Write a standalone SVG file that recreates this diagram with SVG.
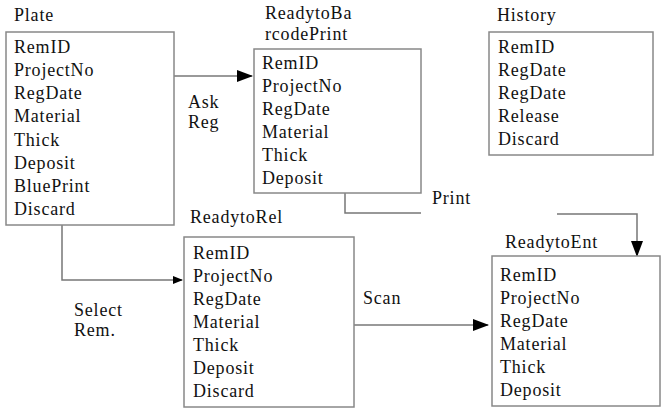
<svg xmlns="http://www.w3.org/2000/svg" width="667" height="414" viewBox="0 0 667 414">
<style>
text{font-family:"Liberation Serif","Times New Roman",serif;font-size:18px;letter-spacing:0.8px;fill:#111}
.box{fill:#fff;stroke:#888;stroke-width:1.5}
.c{fill:none;stroke:#777;stroke-width:1.5}
</style>
<defs><marker id="a" markerWidth="10" markerHeight="8" refX="9" refY="4" orient="auto" markerUnits="userSpaceOnUse"><path d="M0,0L10,4L0,8z" fill="#000"/></marker>
<marker id="b" markerWidth="16" markerHeight="12" refX="15" refY="6" orient="auto" markerUnits="userSpaceOnUse"><path d="M0,0L16,6L0,12z" fill="#000"/></marker></defs>
<rect width="667" height="414" fill="#fff"/>
<g id="connectors">
<path class="c" d="M174,76H252" marker-end="url(#b)"/>
<path class="c" d="M62,225V280H182" marker-end="url(#a)"/>
<path class="c" d="M354,325H488" marker-end="url(#b)"/>
<path class="c" d="M345,193V213H421"/>
<path class="c" d="M557,214H637V256" marker-end="url(#b)"/>
<text x="188" y="108">Ask</text><text x="188" y="128">Reg</text>
<text x="74" y="316">Select</text><text x="74" y="336">Rem.</text>
<text x="363" y="304">Scan</text>
<text x="432" y="204">Print</text>
</g>
<g id="plate"><text x="14" y="21">Plate</text><rect class="box" x="6" y="32" width="168" height="193"/>
<text x="14" y="53">RemID</text><text x="14" y="76">ProjectNo</text><text x="14" y="99">RegDate</text><text x="14" y="122">Material</text><text x="14" y="146">Thick</text><text x="14" y="169">Deposit</text><text x="14" y="192">BluePrint</text><text x="14" y="215">Discard</text></g>
<g id="readytobarcodeprint"><text x="265" y="19">ReadytoBa</text><text x="265" y="40">rcodePrint</text><rect class="box" x="254" y="49" width="167" height="144"/>
<text x="262" y="69">RemID</text><text x="262" y="92">ProjectNo</text><text x="262" y="115">RegDate</text><text x="262" y="138">Material</text><text x="262" y="161">Thick</text><text x="262" y="184">Deposit</text></g>
<g id="history"><text x="497" y="21">History</text><rect class="box" x="489" y="32" width="164" height="123"/>
<text x="498" y="53">RemID</text><text x="498" y="76">RegDate</text><text x="498" y="99">RegDate</text><text x="498" y="122">Release</text><text x="498" y="145">Discard</text></g>
<g id="readytorel"><text x="190" y="223">ReadytoRel</text><rect class="box" x="184" y="237" width="170" height="170"/>
<text x="193" y="259">RemID</text><text x="193" y="282">ProjectNo</text><text x="193" y="305">RegDate</text><text x="193" y="328">Material</text><text x="193" y="351">Thick</text><text x="193" y="374">Deposit</text><text x="193" y="397">Discard</text></g>
<g id="readytoent"><text x="505" y="248">ReadytoEnt</text><rect class="box" x="492" y="256" width="168" height="150"/>
<text x="500" y="281">RemID</text><text x="500" y="304">ProjectNo</text><text x="500" y="327">RegDate</text><text x="500" y="350">Material</text><text x="500" y="373">Thick</text><text x="500" y="396">Deposit</text></g>
</svg>
